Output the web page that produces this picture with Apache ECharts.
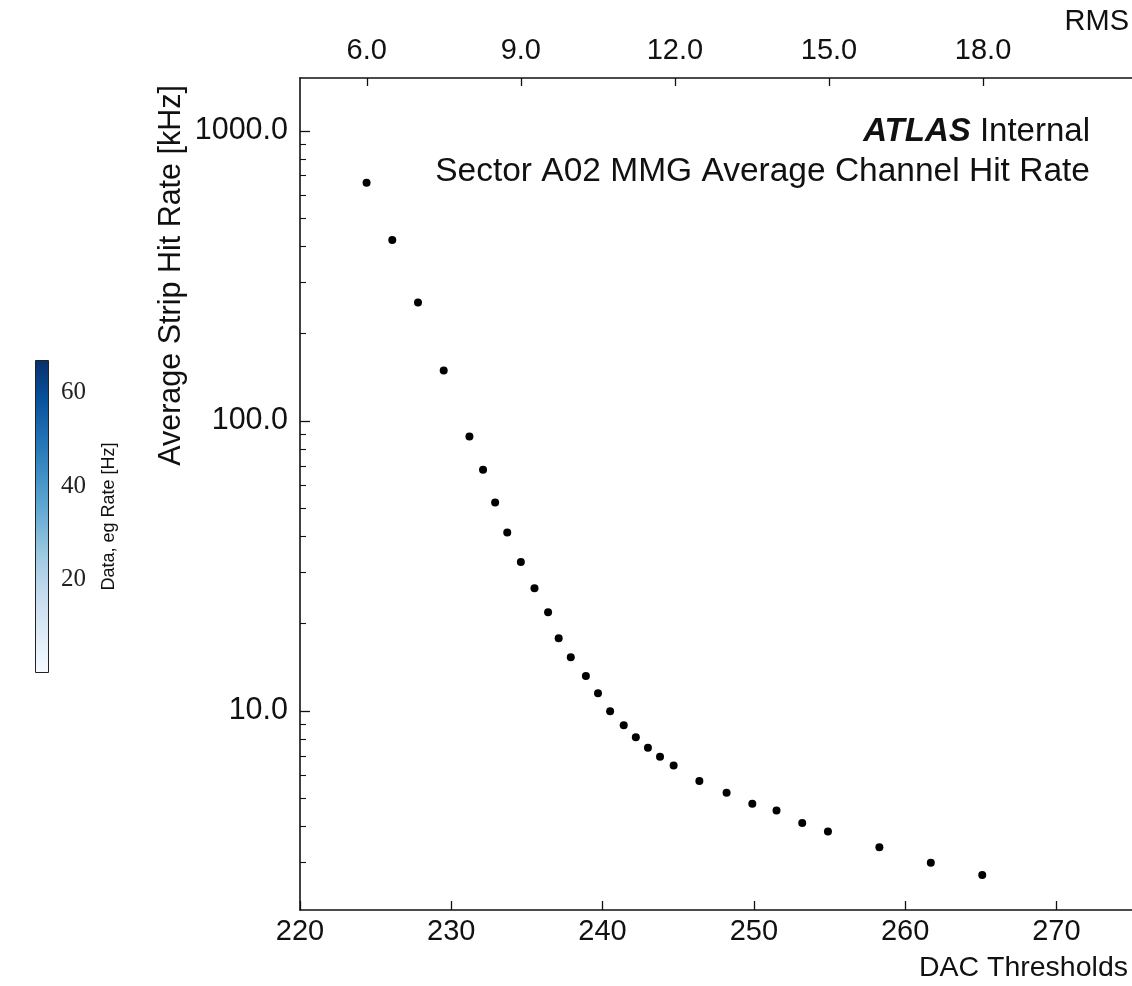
<!DOCTYPE html>
<html style="height: 100%">
<head>
    <meta charset="UTF-8" />
    <title>Sector A02 MMG Hit Rate</title>
    <script src="https://cdn.jsdelivr.net/npm/echarts@6/dist/echarts.min.js"></script>
</head>
<body style="height: 100%; margin: 0; background: #fff">
    <div id="main" style="width: 1132px; height: 986px; margin: 0"></div>
    <script type="text/javascript">
        // DAC threshold vs average strip hit rate [kHz]
        var dacThresholds = [224.4, 226.1, 227.8, 229.5, 231.2, 232.1, 232.9, 233.7, 234.6, 235.5,
            236.4, 237.1, 237.9, 238.9, 239.7, 240.5, 241.4, 242.2, 243.0, 243.8,
            244.7, 246.4, 248.2, 249.9, 251.5, 253.2, 254.9, 258.3, 261.7, 265.1];
        var hitRates = [662, 420, 256, 149, 88.3, 67.8, 52.3, 41.2, 32.6, 26.5,
            21.9, 17.8, 15.3, 13.2, 11.5, 9.97, 8.92, 8.11, 7.46, 6.95,
            6.49, 5.74, 5.22, 4.79, 4.54, 4.11, 3.84, 3.39, 3.0, 2.72];
        var rmsTicks = [6, 9, 12, 15, 18];
        var minorTicks = [3, 4, 5, 6, 7, 8, 9, 20, 30, 40, 50, 60, 70, 80, 90,
            200, 300, 400, 500, 600, 700, 800, 900];
        var colorbarTicks = [20, 40, 60];
        var colorbarMax = 67;

        var sans = 'Liberation Sans, Arial, Helvetica, sans-serif';
        var ink = '#111';

        var points = [];
        for (var i = 0; i < dacThresholds.length; i++)
            points.push([dacThresholds[i], hitRates[i]]);

        var chart = echarts.init(document.getElementById('main'));
        var option = {
            animation: false,
            backgroundColor: '#fff',
            grid: [
                { left: 300, top: 78, right: 0, bottom: 76 },
                { left: 35, top: 360, width: 14, height: 313 }
            ],
            xAxis: [
                {
                    type: 'value', gridIndex: 0, position: 'bottom',
                    min: 220, max: 275, interval: 10,
                    axisLine: { lineStyle: { color: ink, width: 1.6 } },
                    axisTick: { inside: true, length: 9, lineStyle: { color: ink, width: 1.3 } },
                    axisLabel: { color: ink, fontFamily: sans, fontSize: 29, margin: 7, showMaxLabel: false },
                    splitLine: { show: false }
                },
                {
                    type: 'value', gridIndex: 0, position: 'top',
                    min: 4.7, max: 20.9,
                    axisLine: { lineStyle: { color: ink, width: 1.6 } },
                    axisTick: { inside: true, length: 8, customValues: rmsTicks, lineStyle: { color: ink, width: 1.3 } },
                    axisLabel: {
                        color: ink, fontFamily: sans, fontSize: 29, margin: 13,
                        customValues: rmsTicks,
                        formatter: function (v) { return v.toFixed(1); }
                    },
                    splitLine: { show: false }
                },
                {
                    type: 'category', gridIndex: 1, data: [''],
                    show: false
                }
            ],
            yAxis: [
                {
                    type: 'log', gridIndex: 0, position: 'left',
                    min: 2.06, max: 1520, logBase: 10,
                    axisLine: { show: true, lineStyle: { color: ink, width: 1.6 } },
                    axisTick: { inside: true, length: 10, lineStyle: { color: ink, width: 1.3 } },
                    axisLabel: {
                        color: ink, fontFamily: sans, fontSize: 30.5, margin: 12,
                        showMinLabel: false, showMaxLabel: false,
                        formatter: function (v) { return v.toFixed(1); }
                    },
                    splitLine: { show: false }
                },
                {
                    type: 'log', gridIndex: 0, position: 'left',
                    min: 2.06, max: 1520, logBase: 10,
                    axisLine: { show: false },
                    axisTick: { inside: true, length: 6, customValues: minorTicks, lineStyle: { color: ink, width: 1.1 } },
                    axisLabel: { show: false },
                    splitLine: { show: false }
                },
                {
                    type: 'value', gridIndex: 1, position: 'right',
                    min: 0, max: colorbarMax,
                    name: 'Data, eg Rate [Hz]', nameLocation: 'middle', nameRotate: 90, nameGap: 51,
                    nameTextStyle: { color: ink, fontFamily: sans, fontSize: 18 },
                    axisLine: { show: false },
                    axisTick: { length: 5, customValues: colorbarTicks, lineStyle: { color: ink, width: 1 } },
                    axisLabel: {
                        color: '#222', fontFamily: 'Liberation Serif, DejaVu Serif, serif', fontSize: 25, margin: 12,
                        customValues: colorbarTicks
                    },
                    splitLine: { show: false }
                }
            ],
            series: [
                {
                    type: 'scatter', xAxisIndex: 0, yAxisIndex: 0,
                    data: points, symbolSize: 8,
                    itemStyle: { color: '#000', opacity: 1 }
                },
                {
                    type: 'bar', xAxisIndex: 2, yAxisIndex: 2,
                    data: [colorbarMax], barWidth: '100%', silent: true,
                    itemStyle: {
                        borderColor: '#222', borderWidth: 1,
                        color: {
                            type: 'linear', x: 0, y: 0, x2: 0, y2: 1,
                            colorStops: [
                                { offset: 0, color: '#08306b' },
                                { offset: 0.125, color: '#08519c' },
                                { offset: 0.25, color: '#2171b5' },
                                { offset: 0.375, color: '#4292c6' },
                                { offset: 0.5, color: '#6baed6' },
                                { offset: 0.625, color: '#9ecae1' },
                                { offset: 0.75, color: '#c6dbef' },
                                { offset: 0.875, color: '#deebf7' },
                                { offset: 1, color: '#f7fbff' }
                            ]
                        }
                    }
                }
            ],
            graphic: [
                {
                    type: 'text', x: 1129, y: 36,
                    style: { text: 'RMS', fill: ink, font: '29px ' + sans, align: 'right', verticalAlign: 'bottom' }
                },
                {
                    type: 'text', x: 1128, y: 983,
                    style: { text: 'DAC Thresholds', fill: ink, font: '28.5px ' + sans, align: 'right', verticalAlign: 'bottom' }
                },
                {
                    type: 'text', x: 172, y: 85, rotation: Math.PI / 2,
                    style: { text: 'Average Strip Hit Rate [kHz]', fill: ink, font: '30.5px ' + sans, align: 'right', verticalAlign: 'middle' }
                },
                {
                    type: 'text', x: 1090, y: 148,
                    style: {
                        text: '{b|ATLAS} Internal', fill: ink, font: '33px ' + sans,
                        align: 'right', verticalAlign: 'bottom',
                        rich: { b: { fontWeight: 'bold', fontStyle: 'italic', fontSize: 33, fontFamily: sans, fill: ink } }
                    }
                },
                {
                    type: 'text', x: 1090, y: 189,
                    style: { text: 'Sector A02 MMG Average Channel Hit Rate', fill: ink, font: '33.5px ' + sans, align: 'right', verticalAlign: 'bottom' }
                }
            ]
        };
        chart.setOption(option);
    </script>
</body>
</html>
